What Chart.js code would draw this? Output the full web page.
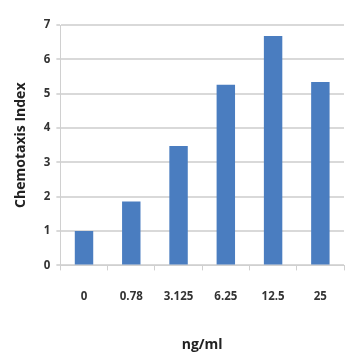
<!DOCTYPE html>
<html><head><meta charset="utf-8">
<script src="https://cdn.jsdelivr.net/npm/chart.js@4"></script>
<style>html,body{margin:0;padding:0;background:#fff}#w{width:358px;height:358px}</style>
</head><body><div id="w"><canvas id="c"></canvas></div>
<script>
const categories = ["0", "0.78", "3.125", "6.25", "12.5", "25"];
const chemotaxisIndex = [1.0, 1.86, 3.48, 5.26, 6.68, 5.34];
const yTicks = [0, 1, 2, 3, 4, 5, 6, 7];

new Chart(document.getElementById('c'), {
  type: 'bar',
  data: { labels: categories, datasets: [{ data: chemotaxisIndex, backgroundColor: '#4a7dc0', barPercentage: 0.39, categoryPercentage: 1 }] },
  options: {
    responsive: true, maintainAspectRatio: false, animation: false,
    layout: { padding: { left: 9, right: 14, top: 25, bottom: 1 } },
    plugins: { legend: { display: false }, tooltip: { enabled: false } },
    scales: {
      x: {
        grid: { drawOnChartArea: false, offset: true, tickLength: 5, color: '#d0d0d0', lineWidth: 1 },
        border: { color: '#d0d0d0' },
        ticks: { color: '#333', font: { family: 'Open Sans', weight: 'bold', size: 11.5 }, padding: 19, maxRotation: 0 },
        title: { display: true, text: 'ng/ml', color: '#222', font: { family: 'Open Sans', weight: 'bold', size: 14 }, padding: { top: 14 } }
      },
      y: {
        min: 0, max: 7,
        afterBuildTicks: (s) => { s.ticks = yTicks.map(v => ({ value: v })); },
        grid: { color: '#d9d9d9', lineWidth: 2, tickLength: 4 },
        border: { color: '#d0d0d0', width: 1 },
        ticks: { color: '#333', font: { family: 'Open Sans', weight: 'bold', size: 11.5 }, padding: 6 },
        title: { display: true, text: 'Chemotaxis Index', color: '#222', font: { family: 'Open Sans', weight: 'bold', size: 14 }, padding: { bottom: 8 } }
      }
    }
  }
});
</script></body></html>
